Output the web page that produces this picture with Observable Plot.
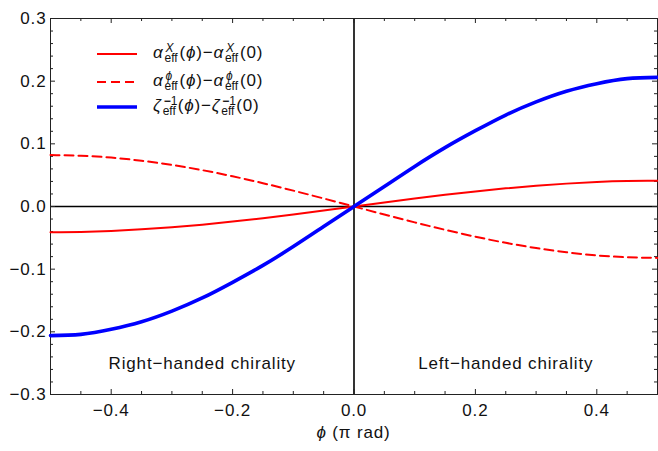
<!DOCTYPE html>
<html>
<head>
<meta charset="utf-8">
<script src="https://cdn.jsdelivr.net/npm/d3@7"></script>
<script src="https://cdn.jsdelivr.net/npm/@observablehq/plot@0.6"></script>
<style>
  html, body { margin: 0; padding: 0; background: #fff; }
  #wrap { position: relative; width: 658px; height: 451px; font-family: "Liberation Sans", Arial, sans-serif; color: #111; }
  #wrap svg.plot { position: absolute; left: 0; top: 0; }
  #wrap svg.plot text { letter-spacing: 0.85px; }
  .leg { position: absolute; left: 97px; height: 0; font-size: 17px; line-height: 17px; white-space: nowrap; letter-spacing: 0.8px; }
  .leg svg { position: absolute; left: 0; top: -2px; }
  .leg .t { position: absolute; left: 56px; top: -10px; }
  .ss { display: inline-block; position: relative; width: 14px; height: 0; margin-left: 1px; margin-right: 1px; }
  .ss .sp { position: absolute; left: 1px; bottom: 4.2px; font-size: 12px; line-height: 9px; letter-spacing: 0; }
  .ss .sb { position: absolute; left: 0; bottom: -5.3px; font-size: 12px; line-height: 9px; letter-spacing: 0; }
  .xl { position: absolute; left: 0; width: 100%; text-align: center; top: 423px; font-size: 17px; line-height: 19px; letter-spacing: 0.85px; padding-left: 49px; box-sizing: border-box; }
</style>
</head>
<body>
<div id="wrap"></div>
<script>
// Azimuthal angle phi (in units of pi rad)
const phi = [-0.5, -0.45, -0.4, -0.35, -0.3, -0.25, -0.2, -0.15, -0.1, -0.05, 0,
             0.05, 0.1, 0.15, 0.2, 0.25, 0.3, 0.35, 0.4, 0.45, 0.5];
// zeta_eff^-1(phi) - zeta_eff^-1(0)  (blue, thick)
const zetaInvDiff = [-0.206, -0.204, -0.196, -0.184, -0.167, -0.146, -0.121, -0.094, -0.064, -0.032, 0,
                     0.032, 0.064, 0.094, 0.121, 0.146, 0.167, 0.184, 0.196, 0.204, 0.206];
// alpha_eff^X(phi) - alpha_eff^X(0)  (red, solid)
const alphaXDiff = [-0.041, -0.0405, -0.039, -0.0365, -0.0332, -0.029, -0.0241, -0.0186, -0.0127, -0.0064, 0,
                    0.0064, 0.0127, 0.0186, 0.0241, 0.029, 0.0332, 0.0365, 0.039, 0.0405, 0.041];
// alpha_eff^phi(phi) - alpha_eff^phi(0)  (red, dashed)
const alphaPhiDiff = [0.082, 0.081, 0.078, 0.073, 0.0663, 0.058, 0.0482, 0.0372, 0.0253, 0.0128, 0,
                      -0.0128, -0.0253, -0.0372, -0.0482, -0.058, -0.0663, -0.073, -0.078, -0.081, -0.082];

// axis ticks
const xMajorTicks = [-0.4, -0.2, 0.0, 0.2, 0.4];
const xMinorTicks = [-0.45, -0.35, -0.3, -0.25, -0.15, -0.1, -0.05, 0.05, 0.1, 0.15, 0.25, 0.3, 0.35, 0.45];
const yMajorTicks = [-0.3, -0.2, -0.1, 0.0, 0.1, 0.2, 0.3];
const yMinorTicks = [-0.28, -0.26, -0.24, -0.22, -0.18, -0.16, -0.14, -0.12, -0.08, -0.06, -0.04, -0.02,
                     0.02, 0.04, 0.06, 0.08, 0.12, 0.14, 0.16, 0.18, 0.22, 0.24, 0.26, 0.28];

const annotations = [
  {x: -0.25, y: -0.25, text: "Right\u2212handed chirality"},
  {x: 0.25, y: -0.25, text: "Left\u2212handed chirality"}
];

const W = 658, H = 451, mL = 50, mR = 1, mT = 18, mB = 57;
const iW = W - mL - mR, iH = H - mT - mB;
const majLen = 5, minLen = 3;
const frameColor = "#222";

const table = (ys, name) => phi.map((p, i) => ({phi: p, v: ys[i], s: name}));
const zeta = table(zetaInvDiff, "zeta");
const ax = table(alphaXDiff, "ax");
const ap = table(alphaPhiDiff, "ap");

const chart = Plot.plot({
  width: W, height: H,
  marginLeft: mL, marginRight: mR, marginTop: mT, marginBottom: mB,
  style: {fontFamily: '"Liberation Sans", Arial, sans-serif', fontSize: "17px", color: "#111", background: "transparent"},
  x: {domain: [-0.5, 0.5], ticks: xMajorTicks, tickFormat: d3.format(".1f"), tickSize: 0, tickPadding: 9, label: null},
  y: {domain: [-0.3, 0.3], ticks: yMajorTicks, tickFormat: d3.format(".1f"), tickSize: 0, tickPadding: 4, label: null},
  marks: [
    Plot.ruleY([0], {stroke: "#000", strokeWidth: 1.6}),
    Plot.ruleX([0], {stroke: "#000", strokeWidth: 1.6}),
    // inward ticks: left / right
    Plot.tickY(yMajorTicks, {y: d => d, stroke: frameColor, insetRight: iW - majLen}),
    Plot.tickY(yMinorTicks, {y: d => d, stroke: frameColor, insetRight: iW - minLen}),
    Plot.tickY(yMajorTicks, {y: d => d, stroke: frameColor, insetLeft: iW - majLen}),
    Plot.tickY(yMinorTicks, {y: d => d, stroke: frameColor, insetLeft: iW - minLen}),
    // inward ticks: bottom / top
    Plot.tickX(xMajorTicks, {x: d => d, stroke: frameColor, insetTop: iH - majLen}),
    Plot.tickX(xMinorTicks, {x: d => d, stroke: frameColor, insetTop: iH - minLen}),
    Plot.tickX(xMajorTicks, {x: d => d, stroke: frameColor, insetBottom: iH - majLen}),
    Plot.tickX(xMinorTicks, {x: d => d, stroke: frameColor, insetBottom: iH - minLen}),
    Plot.frame({stroke: frameColor, strokeWidth: 1}),
    Plot.line(ax, {x: "phi", y: "v", stroke: "#ff0000", strokeWidth: 2, curve: "natural"}),
    Plot.line(ap, {x: "phi", y: "v", stroke: "#ff0000", strokeWidth: 2, strokeDasharray: "9,5", curve: "natural"}),
    Plot.line(zeta, {x: "phi", y: "v", stroke: "#0000ff", strokeWidth: 3.6, curve: "natural"}),
    Plot.text(annotations, {x: "x", y: "y", text: "text", fontSize: 17, fill: "#111"})
  ]
});
chart.classList.add("plot");

const wrap = document.getElementById("wrap");
wrap.appendChild(chart);

// legend (HTML overlay)
const legendItems = [
  {top: 53.5, stroke: "#ff0000", width: 2, dash: null,
   html: '<i>α</i><span class="ss"><span class="sp"><i>X</i></span><span class="sb">eff</span></span>(<i>ϕ</i>)−<i>α</i><span class="ss"><span class="sp"><i>X</i></span><span class="sb">eff</span></span>(0)'},
  {top: 81.5, stroke: "#ff0000", width: 2, dash: "9,5",
   html: '<i>α</i><span class="ss"><span class="sp"><i>ϕ</i></span><span class="sb">eff</span></span>(<i>ϕ</i>)−<i>α</i><span class="ss"><span class="sp"><i>ϕ</i></span><span class="sb">eff</span></span>(0)'},
  {top: 106.5, stroke: "#0000ff", width: 3.6, dash: null,
   html: '<i>ζ</i><span class="ss"><span class="sp"><b>−</b>1</span><span class="sb">eff</span></span>(<i>ϕ</i>)−<i>ζ</i><span class="ss"><span class="sp"><b>−</b>1</span><span class="sb">eff</span></span>(0)'}
];
for (const it of legendItems) {
  const row = document.createElement("div");
  row.className = "leg";
  row.style.top = it.top + "px";
  row.innerHTML = `<svg width="42" height="4" style="overflow:visible"><line x1="0" x2="40" y1="2" y2="2" stroke="${it.stroke}" stroke-width="${it.width}" ${it.dash ? `stroke-dasharray="${it.dash}"` : ""}/></svg><span class="t">${it.html}</span>`;
  wrap.appendChild(row);
}
const xl = document.createElement("div");
xl.className = "xl";
xl.innerHTML = '<i>ϕ</i> (π rad)';
wrap.appendChild(xl);
</script>
</body>
</html>
